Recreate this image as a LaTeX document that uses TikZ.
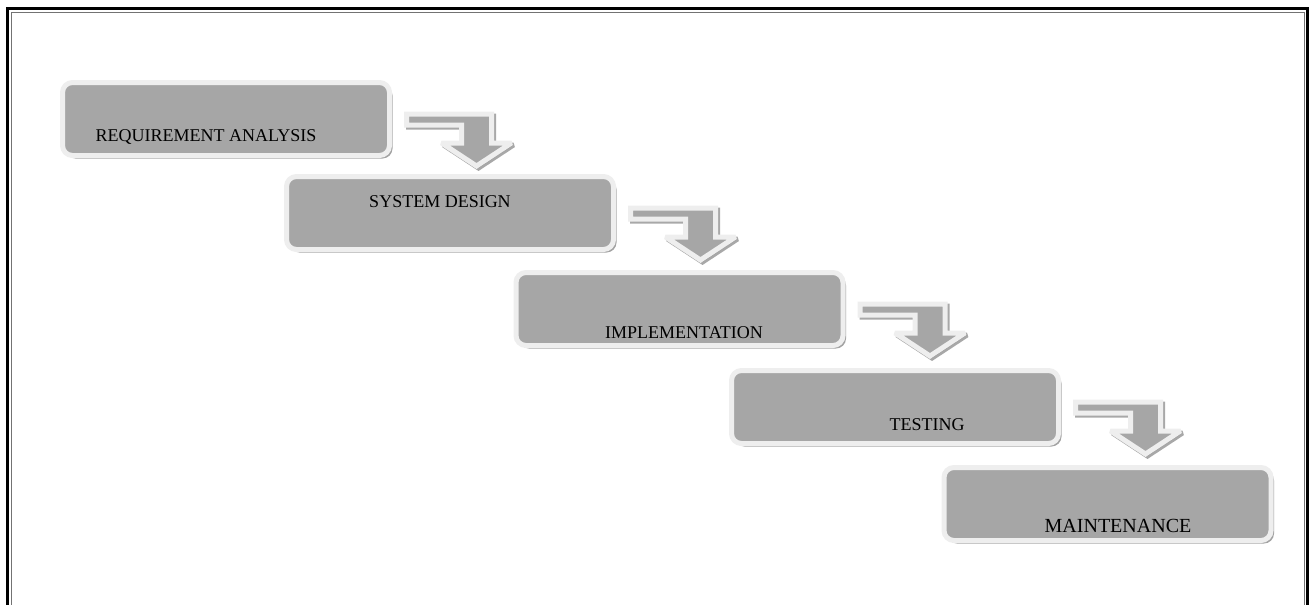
\documentclass[tikz,border=0pt]{standalone}
\usepackage{fontspec}
\setmainfont{Liberation Serif}
\usetikzlibrary{shadows}
\definecolor{boxgray}{HTML}{A6A6A6}
\definecolor{rimgray}{HTML}{EEEEEE}
\definecolor{shadgray}{HTML}{8C8C8C}
\tikzset{
  wfbox/.style={draw=rimgray, fill=boxgray, line width=5pt, rounded corners=10pt,
    minimum width=327pt, minimum height=73pt, inner sep=0pt,
    drop shadow={shadow xshift=3pt, shadow yshift=-3pt, fill=shadgray, opacity=0.8}},
  wftext/.style={anchor=base, inner sep=0pt, font=\fontsize{18}{20}\selectfont},
  arrrim/.style={draw=rimgray, fill=boxgray, line width=5pt, line join=miter, miter limit=3},
  arrshad/.style={draw=shadgray, fill=shadgray, line width=5pt, line join=miter, miter limit=3, opacity=0.75},
  frameouter/.style={line width=3pt, black},
  frameinner/.style={line width=1pt, black!55}
}
\newcommand\wfarrowpath{(14.5,34) -- (99.5,34) -- (99.5,63) -- (119.5,63) -- (84.5,86) -- (49.5,63) -- (69.5,63) -- (69.5,45) -- (14.5,45) -- cycle}
\newcommand\wfarrow[1]{%
  \begin{scope}[shift={(#1.north east)}]
    \path[arrshad, shift={(2,2)}] \wfarrowpath;
    \path[arrrim] \wfarrowpath;
  \end{scope}}
\begin{document}
\begin{tikzpicture}[x=1pt,y=-1pt]
\useasboundingbox (0,0) rectangle (1315,605);
\fill[white] (0,0) rectangle (1315,605);
% frame
\draw[frameouter] (7.5,605) -- (7.5,8.5) -- (1307.5,8.5) -- (1307.5,605);
\draw[frameinner] (11,605) -- (11,12) -- (1304,12) -- (1304,605);
% boxes
\node[wfbox] (b1) at (226,119) {};
\node[wfbox] (b2) at (450,213) {};
\node[wfbox] (b3) at (679.5,309) {};
\node[wfbox] (b4) at (895,407) {};
\node[wfbox] (b5) at (1107.5,504) {};
% arrows
\wfarrow{b1}
\wfarrow{b2}
\wfarrow{b3}
\wfarrow{b4}
% texts
\node[wftext] (t1) at (206,141) {REQUIREMENT ANALYSIS};
\node[wftext] (t2) at (440,207) {SYSTEM DESIGN};
\node[wftext] (t3) at (684,338) {IMPLEMENTATION};
\node[wftext] (t4) at (927,430) {TESTING};
\node[wftext, font=\fontsize{20}{22}\selectfont] (t5) at (1118,532) {MAINTENANCE};
\end{tikzpicture}
\end{document}
